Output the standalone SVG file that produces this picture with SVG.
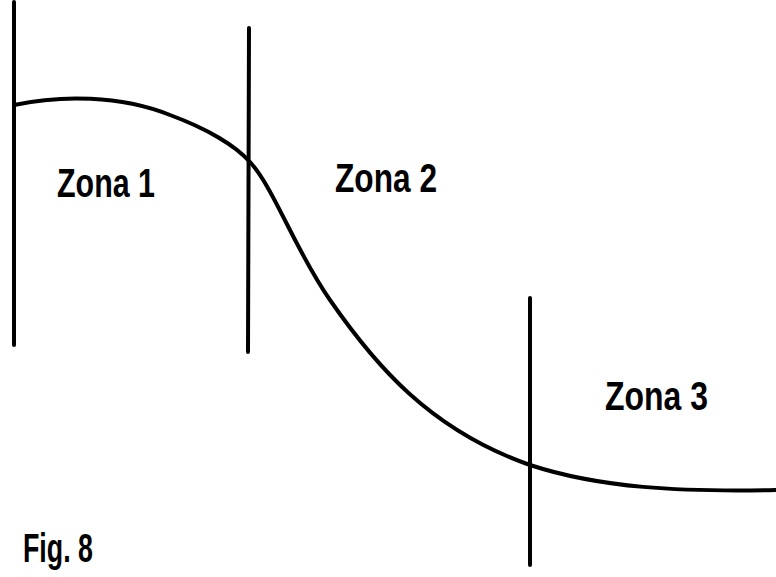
<svg xmlns="http://www.w3.org/2000/svg" width="776" height="577" viewBox="0 0 776 577">
<style>
.ln{stroke:#000;stroke-width:4;fill:none;stroke-linecap:round}
.t{font-family:"Liberation Sans",Arial,sans-serif;font-weight:bold;font-size:40px;fill:#000}
</style>
<rect width="776" height="577" fill="#fff"/>
<g id="boundaries">
<line class="ln" x1="14" y1="2" x2="14" y2="345"/>
<line class="ln" x1="249" y1="28" x2="248" y2="352"/>
<line class="ln" x1="530" y1="298" x2="530" y2="565"/>
</g>
<g id="curve">
<path class="ln" d="M14,105 C60,95 120,95 170,115 C205,128 235,145 250,162 C275,190 295,250 330,300 C375,365 430,430 530,465 C600,488 680,492 776,490"/>
</g>
<g id="labels">
<text class="t" x="57" y="197" textLength="98" lengthAdjust="spacingAndGlyphs">Zona 1</text>
<text class="t" x="335" y="192" textLength="102" lengthAdjust="spacingAndGlyphs">Zona 2</text>
<text class="t" x="605" y="410" textLength="103" lengthAdjust="spacingAndGlyphs">Zona 3</text>
<text class="t" x="23" y="562" textLength="70" lengthAdjust="spacingAndGlyphs">Fig. 8</text>
</g>
</svg>
